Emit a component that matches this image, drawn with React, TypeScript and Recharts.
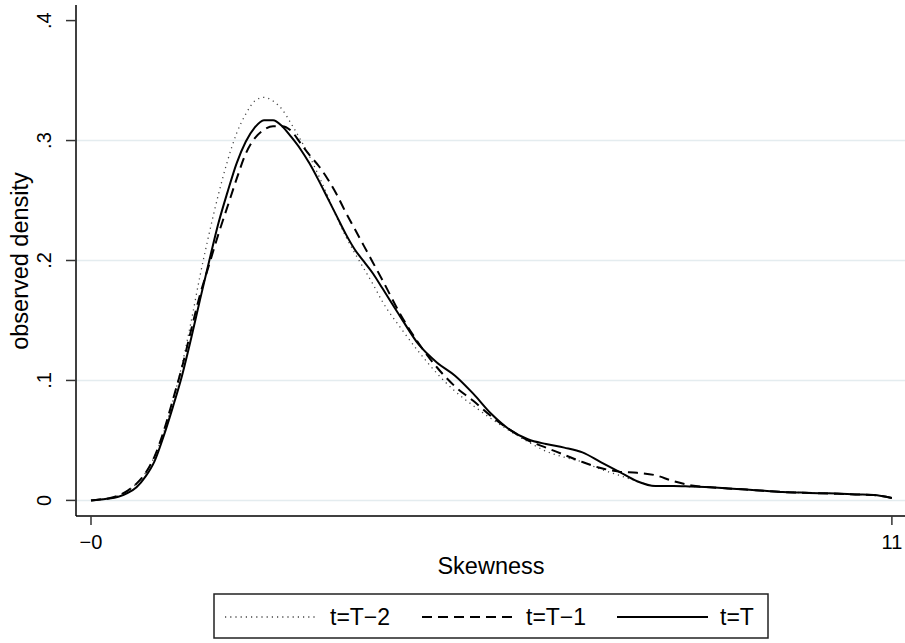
import React from "react";
import {
  LineChart,
  Line,
  XAxis,
  YAxis,
  CartesianGrid,
} from "recharts";

// skewness grid (x) and kernel densities per period
const SKEW = [
  0, 0.125, 0.25, 0.375, 0.5, 0.625, 0.75, 0.875, 1, 1.125, 1.25, 1.375, 1.5,
  1.625, 1.75, 1.875, 2, 2.125, 2.25, 2.375, 2.5, 2.625, 2.75, 2.875, 3, 3.125,
  3.25, 3.375, 3.5, 3.625, 3.75, 3.875, 4, 4.25, 4.5, 4.75, 5, 5.25, 5.5, 5.75,
  6, 6.25, 6.5, 6.75, 7, 7.25, 7.5, 7.75, 8, 8.25, 8.5, 8.75, 9, 9.25, 9.5,
  9.75, 10, 10.25, 10.5, 10.75, 11,
];

const DENS_T2 = [
  0, 0.0008, 0.0018, 0.004, 0.008, 0.014, 0.023, 0.037, 0.057, 0.083, 0.113,
  0.149, 0.188, 0.223, 0.255, 0.283, 0.306, 0.322, 0.333, 0.336, 0.333, 0.326,
  0.314, 0.301, 0.287, 0.271, 0.254, 0.236, 0.22, 0.206, 0.193, 0.18, 0.166,
  0.144, 0.124, 0.106, 0.091, 0.079, 0.068, 0.058, 0.049, 0.041, 0.036, 0.032,
  0.026, 0.021, 0.016, 0.012, 0.012, 0.0115, 0.011, 0.01, 0.009, 0.008, 0.007,
  0.0065, 0.006, 0.0057, 0.005, 0.0045, 0.002,
];

const DENS_T1 = [
  0, 0.0008, 0.0018, 0.004, 0.008, 0.014, 0.023, 0.037, 0.058, 0.084, 0.111,
  0.142, 0.172, 0.197, 0.222, 0.245, 0.268, 0.289, 0.302, 0.309, 0.312, 0.312,
  0.308, 0.298, 0.288, 0.279, 0.268, 0.255, 0.24, 0.226, 0.212, 0.198, 0.184,
  0.155, 0.131, 0.111, 0.095, 0.083, 0.07, 0.059, 0.05, 0.044, 0.038, 0.032,
  0.027, 0.024, 0.023, 0.021, 0.016, 0.0125, 0.011, 0.01, 0.009, 0.008, 0.007,
  0.0065, 0.006, 0.0055, 0.005, 0.0045, 0.002,
];

const DENS_T = [
  0, 0.0008, 0.0015, 0.003, 0.006, 0.011, 0.02, 0.033, 0.054, 0.078, 0.104,
  0.135, 0.168, 0.2, 0.231, 0.257, 0.281, 0.299, 0.311, 0.317, 0.317, 0.312,
  0.303, 0.293, 0.281, 0.267, 0.252, 0.237, 0.222, 0.209, 0.199, 0.189, 0.177,
  0.153, 0.13, 0.115, 0.104, 0.089, 0.072, 0.059, 0.051, 0.047, 0.044, 0.04,
  0.032, 0.024, 0.016, 0.012, 0.012, 0.0115, 0.011, 0.01, 0.009, 0.008, 0.007,
  0.0065, 0.006, 0.0057, 0.005, 0.0045, 0.002,
];

const X_TICKS = [0, 11];
const Y_TICKS = [0, 0.1, 0.2, 0.3, 0.4];
const GRID_Y = [0, 0.1, 0.2, 0.3];
const LEGEND_LABELS = ["t=T\u22122", "t=T\u22121", "t=T"];

const data = SKEW.map((x, i) => ({
  x,
  t2: DENS_T2[i],
  t1: DENS_T1[i],
  t: DENS_T[i],
}));

const FONT = '"Liberation Sans", Arial, Helvetica, sans-serif';

const fmtY = (v: number) => (v === 0 ? "0" : "." + Math.round(v * 10));
const fmtX = (v: number) => (v === 0 ? "\u22120" : String(v));

const YTick = (props: any) => {
  const { y, payload } = props;
  return (
    <text
      x={51}
      y={y}
      transform={`rotate(-90 51 ${y})`}
      textAnchor="middle"
      fontSize={20}
      fontFamily={FONT}
      fill="#000"
    >
      {fmtY(payload.value)}
    </text>
  );
};

const XTick = (props: any) => {
  const { x, payload } = props;
  return (
    <text x={x} y={549} textAnchor="middle" fontSize={20} fontFamily={FONT} fill="#000">
      {fmtX(payload.value)}
    </text>
  );
};

export default function App() {
  return (
    <div
      style={{
        position: "absolute",
        left: 0,
        top: 0,
        width: 905,
        height: 643,
        background: "#fff",
        fontFamily: FONT,
      }}
    >
      <LineChart
        width={905}
        height={643}
        data={data}
        margin={{ top: 5, right: 0, bottom: 67, left: 0 }}
      >
        <CartesianGrid
          vertical={false}
          horizontalValues={GRID_Y}
          stroke="#e4ecef"
          strokeWidth={1.5}
        />
        <XAxis
          dataKey="x"
          type="number"
          domain={[-0.206, 11.18]}
          ticks={X_TICKS}
          allowDataOverflow
          height={60}
          tickSize={9}
          axisLine={{ stroke: "#000", strokeWidth: 1.5 }}
          tickLine={{ stroke: "#333", strokeWidth: 1.5 }}
          tick={<XTick />}
          label={{
            content: () => (
              <text x={491} y={574} textAnchor="middle" fontSize={23.5} fontFamily={FONT} fill="#000">
                Skewness
              </text>
            ),
          }}
        />
        <YAxis
          type="number"
          domain={[-0.013, 0.413]}
          ticks={Y_TICKS}
          allowDataOverflow
          width={76}
          tickSize={10}
          axisLine={{ stroke: "#000", strokeWidth: 1.5 }}
          tickLine={{ stroke: "#333", strokeWidth: 1.5 }}
          tick={<YTick />}
          label={{
            content: () => (
              <text
                x={28}
                y={261}
                transform="rotate(-90 28 261)"
                textAnchor="middle"
                fontSize={23.5}
                fontFamily={FONT}
                fill="#000"
              >
                observed density
              </text>
            ),
          }}
        />
        <Line
          type="monotone"
          dataKey="t2"
          stroke="#444"
          strokeWidth={1.3}
          strokeDasharray="1.2 4"
          dot={false}
          isAnimationActive={false}
        />
        <Line
          type="monotone"
          dataKey="t1"
          stroke="#000"
          strokeWidth={2}
          strokeDasharray="10 6"
          dot={false}
          isAnimationActive={false}
        />
        <Line
          type="monotone"
          dataKey="t"
          stroke="#000"
          strokeWidth={2}
          dot={false}
          isAnimationActive={false}
        />
      </LineChart>
      <svg
        width={905}
        height={643}
        style={{ position: "absolute", left: 0, top: 0, pointerEvents: "none" }}
      >
        <rect x={214} y={594} width={554} height={44} fill="none" stroke="#222" strokeWidth={1.5} />
        <line x1={225} y1={617} x2={315} y2={617} stroke="#444" strokeWidth={1.3} strokeDasharray="1.2 4" />
        <text x={330} y={625} fontSize={23} fontFamily={FONT} fill="#000">
          {LEGEND_LABELS[0]}
        </text>
        <line x1={422} y1={617} x2={512} y2={617} stroke="#000" strokeWidth={2} strokeDasharray="10 6" />
        <text x={526} y={625} fontSize={23} fontFamily={FONT} fill="#000">
          {LEGEND_LABELS[1]}
        </text>
        <line x1={617} y1={617} x2={708} y2={617} stroke="#000" strokeWidth={2} />
        <text x={720} y={625} fontSize={23} fontFamily={FONT} fill="#000">
          {LEGEND_LABELS[2]}
        </text>
      </svg>
    </div>
  );
}
